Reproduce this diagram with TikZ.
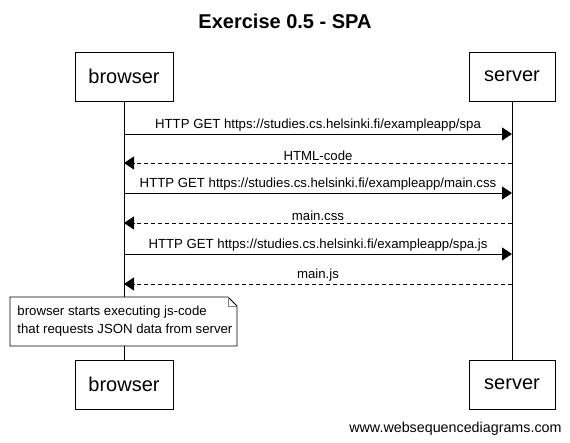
\documentclass[tikz,border=0pt]{standalone}
\usepackage{fontspec}
\setmainfont{Liberation Sans}
\usetikzlibrary{arrows.meta}

\tikzset{
  actor/.style={draw, fill=white, minimum height=49pt, inner sep=0pt,
    font=\fontsize{20}{24}\selectfont},
  msg/.style={-{Triangle[length=10pt,width=13pt]}},
  reply/.style={msg, dash pattern=on 4pt off 3pt},
  msglabel/.style={midway, above, inner sep=2pt, font=\fontsize{13.2}{15}\selectfont}
}

\begin{document}
\begin{tikzpicture}[x=1pt,y=-1pt,line width=0.9pt]
\useasboundingbox (0,0) rectangle (570,443);

\node[font=\bfseries\fontsize{20}{24}\selectfont] (title) at (285,21) {Exercise 0.5 - SPA};

% participants
\node[actor, minimum width=98pt] (btop) at (124,76.5) {browser};
\node[actor, minimum width=86pt] (stop) at (512,76.5) {server};
\node[actor, minimum width=98pt] (bbot) at (124,384.5) {browser};
\node[actor, minimum width=86pt] (sbot) at (512,384.5) {server};

% lifelines
\draw (btop.south) -- (bbot.north);
\draw (stop.south) -- (sbot.north);

% messages
\coordinate (b1) at (124,134); \coordinate (s1) at (512,134);
\coordinate (b2) at (124,163); \coordinate (s2) at (512,163);
\coordinate (b3) at (124,193); \coordinate (s3) at (512,193);
\coordinate (b4) at (124,223); \coordinate (s4) at (512,223);
\coordinate (b5) at (124,254); \coordinate (s5) at (512,254);
\coordinate (b6) at (124,284); \coordinate (s6) at (512,284);

\draw[msg] (b1) -- (s1) node[msglabel] {HTTP GET https://studies.cs.helsinki.fi/exampleapp/spa};
\draw[reply] (s2) -- (b2) node[msglabel] {HTML-code};
\draw[msg] (b3) -- (s3) node[msglabel] {HTTP GET https://studies.cs.helsinki.fi/exampleapp/main.css};
\draw[reply] (s4) -- (b4) node[msglabel] {main.css};
\draw[msg] (b5) -- (s5) node[msglabel] {HTTP GET https://studies.cs.helsinki.fi/exampleapp/spa.js};
\draw[reply] (s6) -- (b6) node[msglabel] {main.js};

% note
\draw[fill=white] (10,297) -- (228,297) -- (237,306) -- (237,346) -- (10,346) -- cycle;
\draw[gray] (228,297) -- (228,306) -- (237,306);
\node[anchor=west, align=left, inner sep=0pt, font=\fontsize{13.2}{18}\selectfont] (note) at (17,321.5)
  {browser starts executing js-code\\that requests JSON data from server};

\node[anchor=east, inner sep=0pt, font=\fontsize{14.3}{17}\selectfont] (credit) at (562,429) {www.websequencediagrams.com};
\end{tikzpicture}
\end{document}
